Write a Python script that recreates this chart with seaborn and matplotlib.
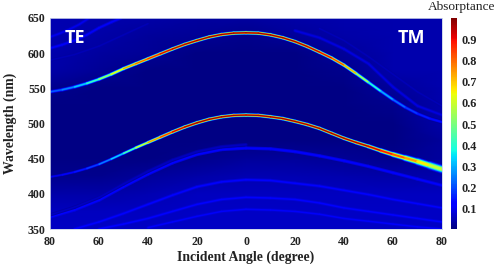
import numpy as np
import matplotlib
matplotlib.use("Agg")
import matplotlib.pyplot as plt
from matplotlib.collections import LineCollection
from matplotlib.colors import Normalize
import seaborn as sns

# signed angle: TE on the left (negative), TM on the right
angles = [-80, -75, -70, -65, -60, -55, -50, -45, -40, -35, -30, -25, -20, -15, -10, -5, 0,
          5, 10, 15, 20, 25, 30, 35, 40, 45, 50, 55, 60, 65, 70, 75, 80]

# main absorption ridges
upper_nm = [545, 548, 552, 557, 563, 570, 578, 585, 592, 599, 606, 612.5, 618, 623, 626.5, 628.5, 629,
            628.5, 626, 622, 616.5, 609.5, 601.5, 593, 583, 571, 558.5, 546, 534, 523, 514, 507, 502]
upper_abs = [.20, .24, .29, .37, .47, .58, .70, .78, .85, .90, .94, .96, .97, .97, .97, .97, .97,
             .97, .97, .97, .97, .95, .93, .88, .80, .65, .45, .34, .26, .21, .17, .15, .13]
lower_nm = [424, 427, 431, 436, 442, 449.5, 457.5, 465.5, 473, 480.5, 488, 495, 501, 506, 509.5, 511.5, 512,
            511.5, 509.5, 507, 503, 498.5, 493, 486, 479, 473, 467.5, 461.5, 456, 451, 446, 440.5, 435]
lower_abs = [.10, .11, .13, .17, .22, .30, .38, .52, .70, .81, .90, .95, .97, .97, .97, .97, .97,
             .97, .97, .97, .97, .97, .97, .97, .97, .96, .95, .91, .85, .78, .70, .62, .55]
lower_spread = [.8, .8, .8, .8, .8, .8, .8, .85, .9, .95, 1, 1, 1, 1, 1, 1, 1,
                1, 1, 1, 1, 1, 1, 1, 1, 1.05, 1.1, 1.25, 1.4, 1.65, 1.9, 2.15, 2.4]

# faint ridges: (angles, wavelengths, absorptance)
faint = [
    ([-80, -76, -72, -68, -64], [623, 628, 634, 641, 650], .10),
    ([-80, -75, -70, -65, -60, -55, -51], [607, 612, 618, 626, 636, 644, 650], .11),
    ([-80, -70, -60, -50, -40], [590, 598, 610, 626, 642], .055),
    ([-80, -70, -60, -50, -40, -30, -20, -10, 0, 10, 20, 30, 40, 50, 60, 70, 80],
     [367, 377, 391, 410, 428, 444, 456, 463, 465, 464, 460, 454, 447, 439, 430, 421, 412], .125),
    ([-80, -70, -60, -50, -40, -30, -20, -10, 0], [370, 381, 395, 414, 432, 448, 460, 467, 470], .06),
    ([-70, -60, -50, -40, -30, -20, -10, 0, 10, 20, 30, 40, 50, 60, 70, 80],
     [350, 360, 372, 385, 398, 410, 417, 420, 419, 415, 411, 405, 399, 392, 386, 380], .115),
    ([-60, -50, -40, -30, -20, -10, 0, 10, 20, 30, 40, 50, 60, 70, 80],
     [350, 357, 365, 375, 385, 392, 395, 394, 392, 387, 380, 375, 370, 365, 360], .115),
    ([-40, -30, -20, -10, 0, 10, 20, 30, 40, 50, 60, 70, 80],
     [352, 360, 368, 375, 378, 377, 375, 371, 365, 361, 357, 353, 350], .11),
    ([20, 30, 40, 50, 60, 70, 80], [632, 622, 606, 585, 552, 525, 512], .09),
    ([30, 40, 50, 60, 70, 80], [635, 618, 595, 570, 545, 525], .055),
]

# background absorptance, rows 650 -> 350 nm, columns -80 -> 80 degree
background = np.array([
    [.05, .045, .04, .035, .035, .04, .045, .045, .045],
    [.05, .04, .03, .025, .02, .03, .04, .045, .045],
    [.045, .035, .025, .01, .01, .01, .03, .045, .045],
    [.04, .025, .01, .01, .01, .01, .02, .045, .045],
    [.02, .01, .01, .01, .01, .01, .01, .03, .045],
    [.01, .01, .01, .01, .01, .01, .01, .02, .045],
    [.01, .01, .01, .01, .01, .01, .01, .01, .04],
    [.01, .01, .01, .01, .01, .01, .01, .01, .03],
    [.01, .01, .01, .02, .03, .03, .025, .02, .035],
    [.02, .02, .03, .04, .05, .05, .045, .04, .045],
    [.04, .04, .05, .06, .06, .06, .06, .06, .06],
    [.06, .06, .06, .065, .065, .065, .065, .065, .065],
    [.065, .065, .065, .065, .065, .065, .065, .065, .065],
])

x_ticks = [-80, -60, -40, -20, 0, 20, 40, 60, 80]
y_ticks = [350, 400, 450, 500, 550, 600, 650]
cbar_ticks = [.1, .2, .3, .4, .5, .6, .7, .8, .9]

SERIF = "Liberation Serif"
W, H = 498, 264

sns.set_theme(style="white")
plt.rcParams["font.family"] = SERIF
norm = Normalize(0.005, 1.0)


def rect(x0, y0, x1, y1):
    return [x0 / W, 1 - y1 / H, (x1 - x0) / W, (y1 - y0) / H]


fig = plt.figure(figsize=(W / 100, H / 100), dpi=100)
ax = fig.add_axes(rect(50, 18, 442, 229))
cax = fig.add_axes(rect(451, 18, 457, 229))

sns.heatmap(background, ax=ax, cbar_ax=cax, cmap="jet", vmin=norm.vmin, vmax=norm.vmax,
            xticklabels=False, yticklabels=False, shading="gouraud", rasterized=True,
            cbar_kws={"ticks": cbar_ticks})
ax.set_xlim(0, background.shape[1] - 1)
ax.set_ylim(background.shape[0] - 1, 0)

# ridges go on a second axes with the real angle / wavelength scales
top = fig.add_axes(ax.get_position(), facecolor="none")
top.set_xlim(-80, 80)
top.set_ylim(350, 650)


def segments(xs, ys):
    pts = np.column_stack([xs, ys]).reshape(-1, 1, 2)
    return np.concatenate([pts[:-1], pts[1:]], axis=1)


def draw_ridge(xs, ys, values, spread=None):
    segs = segments(xs, ys)
    vals = np.asarray(values, dtype=float)
    vals = (vals[:-1] + vals[1:]) / 2
    sp = np.ones(len(segs)) if spread is None else (np.asarray(spread)[:-1] + np.asarray(spread)[1:]) / 2
    # glow first, hot core last
    for frac, lw in [(.16, 2.9), (.32, 2.4), (.55, 1.9), (.8, 1.4), (1.0, .9)]:
        lc = LineCollection(segs, cmap="jet", norm=norm, linewidths=lw * sp, capstyle="round")
        lc.set_array(vals * frac)
        top.add_collection(lc)


for fx, fy, fa in faint:
    segs = segments(fx, fy)
    for frac, lw in [(.7, 2.4), (1.0, 1.1)]:
        lc = LineCollection(segs, cmap="jet", norm=norm, linewidths=lw, capstyle="round")
        lc.set_array(np.full(len(segs), fa * frac))
        top.add_collection(lc)

draw_ridge(angles, upper_nm, upper_abs)
draw_ridge(angles, lower_nm, lower_abs, lower_spread)

top.set_xticks(x_ticks)
top.set_xticklabels([str(abs(t)) for t in x_ticks])
top.set_yticks(y_ticks)
top.tick_params(axis="x", length=0, pad=5, labelsize=8.6, colors="#222222")
top.tick_params(axis="y", length=0, pad=3, labelsize=8.6, colors="#222222")
for lab in top.get_xticklabels() + top.get_yticklabels():
    lab.set_fontweight("bold")
for side in top.spines.values():
    side.set_color("#c8d0e8")
    side.set_linewidth(.6)
top.set_xlabel("Incident Angle (degree)", fontsize=9.9, fontweight="bold", labelpad=2, color="#222222")
top.set_ylabel("Wavelength (nm)", fontsize=9.9, fontweight="bold", labelpad=8, color="#222222")

top.text(-70, 622, "TE", color="white", fontsize=13, fontweight="bold", family="Open Sans", ha="center", va="center")
top.text(67.5, 622, "TM", color="white", fontsize=13, fontweight="bold", family="Open Sans", ha="center", va="center")

cax.tick_params(length=0, pad=3, labelsize=8.8, colors="#222222")
for lab in cax.get_yticklabels():
    lab.set_fontweight("bold")
fig.text(461.5 / W, 1 - 7 / H, "Absorptance", fontsize=9.6, ha="center", va="center", color="#222222")

fig.savefig("out.png", dpi=100)
